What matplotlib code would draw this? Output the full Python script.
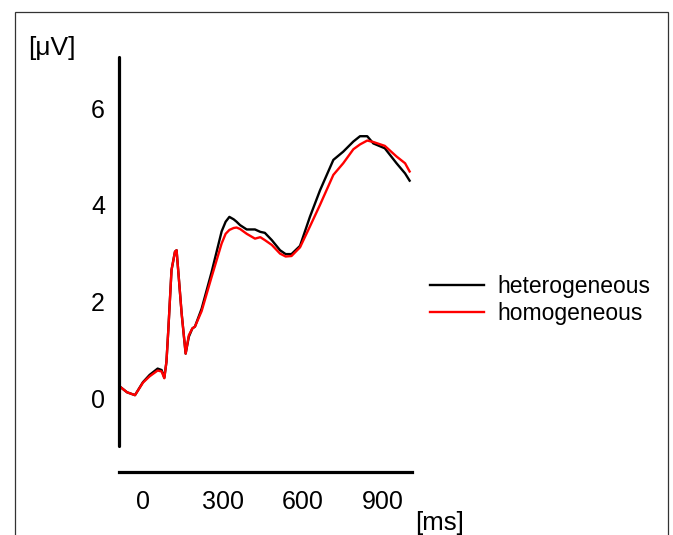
import numpy as np
import matplotlib
matplotlib.use("Agg")
import matplotlib.pyplot as plt
from matplotlib.patches import Rectangle

plt.rcParams['font.family'] = ['Liberation Sans', 'DejaVu Sans']

# ERP data (time in ms, amplitude in uV)
time_ms = [-85, -60, -30, 0, 25, 55, 70, 80, 88, 95, 107, 120, 126, 132, 145,
           160, 172, 185, 195, 220, 257, 295, 310, 324, 340, 351, 364, 389, 420,
           440, 457, 483, 514, 535, 557, 589, 626, 664, 714, 751, 789, 814, 841,
           864, 907, 951, 983, 1000]
heterogeneous = [0.23, 0.12, 0.06, 0.33, 0.48, 0.61, 0.58, 0.42, 0.75, 1.41,
                 2.65, 3.03, 3.06, 2.65, 1.75, 0.92, 1.27, 1.44, 1.48, 1.85,
                 2.6, 3.45, 3.65, 3.75, 3.7, 3.65, 3.58, 3.49, 3.49, 3.44, 3.42,
                 3.27, 3.06, 2.98, 2.98, 3.15, 3.75, 4.3, 4.93, 5.1, 5.31, 5.42,
                 5.42, 5.27, 5.17, 4.86, 4.65, 4.5]
homogeneous = [0.23, 0.12, 0.06, 0.32, 0.45, 0.57, 0.55, 0.41, 0.75, 1.41,
               2.65, 3.03, 3.06, 2.65, 1.75, 0.92, 1.3, 1.44, 1.48, 1.8,
               2.5, 3.2, 3.4, 3.48, 3.52, 3.53, 3.5, 3.4, 3.3, 3.33, 3.27,
               3.17, 2.99, 2.93, 2.94, 3.12, 3.55, 4.0, 4.62, 4.86, 5.15, 5.25,
               5.33, 5.3, 5.22, 5.0, 4.86, 4.69]
labels = ["heterogeneous", "homogeneous"]
x_ticks = [0, 300, 600, 900]
y_ticks = [0, 2, 4, 6]

fig = plt.figure(figsize=(6.73, 5.35), dpi=100)
ax = fig.add_axes([0.1768, 0.1178, 0.4354, 0.7757])

ax.plot(time_ms, heterogeneous, color="black", lw=1.7, label=labels[0])
ax.plot(time_ms, homogeneous, color="red", lw=1.7, label=labels[1])

ax.set_xlim(-90, 1009)
ax.set_ylim(-1.53, 7.06)
ax.set_xticks(x_ticks)
ax.set_yticks(y_ticks)
ax.tick_params(axis="both", length=0, labelsize=18)
ax.tick_params(axis="x", pad=13)
ax.tick_params(axis="y", pad=10)

for s in ["top", "right"]:
    ax.spines[s].set_visible(False)
ax.spines["left"].set_linewidth(2.3)
ax.spines["bottom"].set_linewidth(2.3)
ax.spines["left"].set_bounds(-1.0, 7.06)
ax.spines["left"].set_capstyle("round")

fig.text(52 / 673, 1 - 48 / 535, "[μV]", fontsize=19, ha="center", va="center")
fig.text(440 / 673, 1 - 523 / 535, "[ms]", fontsize=18.5, ha="center", va="center")

fig.legend(loc="center left", bbox_to_anchor=(430 / 673, 1 - 300 / 535),
           frameon=False, fontsize=16.5, borderpad=0, borderaxespad=0,
           handlelength=2.36, handletextpad=0.6, labelspacing=0.15)

# thin frame around the whole picture
fig.patches.append(Rectangle((15 / 673, -0.05), 653 / 673, 1.05 - 12 / 535,
                             transform=fig.transFigure, fill=False,
                             edgecolor="#333333", lw=0.9))

fig.savefig("out.png", dpi=100)
